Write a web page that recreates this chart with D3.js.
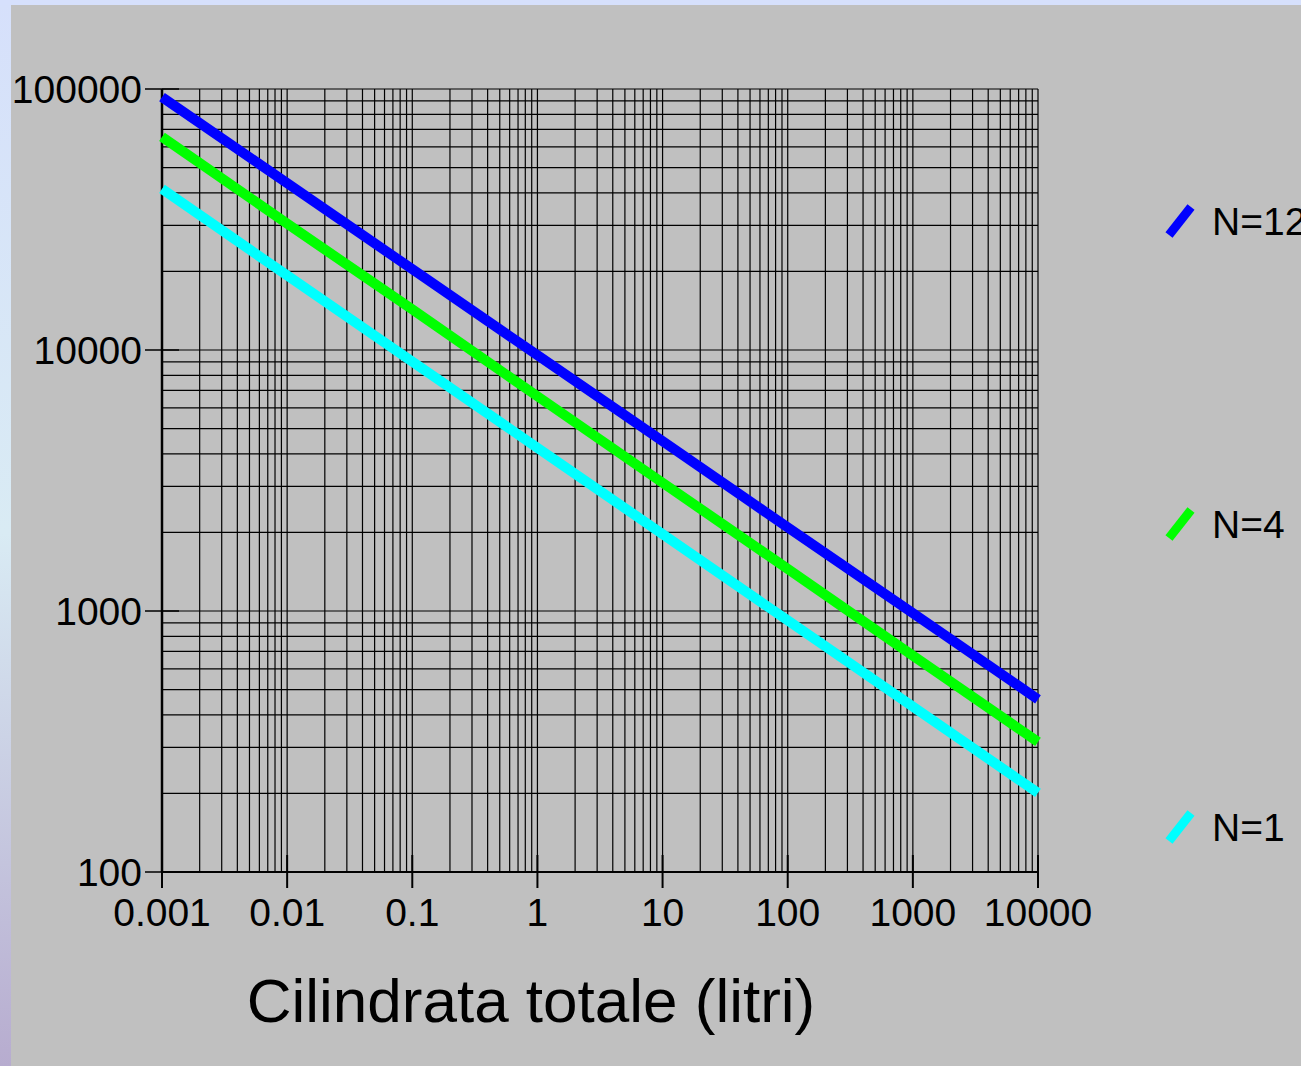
<!DOCTYPE html>
<html>
<head>
<meta charset="utf-8">
<script src="https://cdn.jsdelivr.net/npm/d3@7"></script>
<style>
  html, body { margin: 0; padding: 0; overflow: hidden; }
  svg { display: block; }
</style>
</head>
<body>
<svg id="chart" width="1301" height="1066"></svg>
<script>
// ---- data ----
const xDecades = [0.001, 0.01, 0.1, 1, 10, 100, 1000, 10000];
const xTickLabels = ["0.001", "0.01", "0.1", "1", "10", "100", "1000", "10000"];
const yDecades = [100, 1000, 10000, 100000];
const yTickLabels = ["100", "1000", "10000", "100000"];
const seriesNames = ["N=12", "N=4", "N=1"];
const valuesN12 = [93100, 43600, 20400, 9550, 4480, 2090, 982, 459];
const valuesN4  = [65500, 30500, 14300, 6650, 3100, 1450, 675, 315];
const valuesN1  = [41400, 19300, 9030, 4220, 1970, 920, 430, 201];
const seriesColors = ["#0000ff", "#00ff00", "#00ffff"];
const xTitle = "Cilindrata totale (litri)";

const series = [
  { name: seriesNames[0], values: valuesN12, color: seriesColors[0] },
  { name: seriesNames[1], values: valuesN4,  color: seriesColors[1] },
  { name: seriesNames[2], values: valuesN1,  color: seriesColors[2] }
];

(function () {
const svg = d3.select("#chart");
const W = 1301, H = 1066;

// background
const defs = svg.append("defs");
const grad = defs.append("linearGradient").attr("id", "edge").attr("x1", 0).attr("y1", 0).attr("x2", 0).attr("y2", 1);
grad.append("stop").attr("offset", "0%").attr("stop-color", "#d6e0fb");
grad.append("stop").attr("offset", "50%").attr("stop-color", "#d9ebf4");
grad.append("stop").attr("offset", "100%").attr("stop-color", "#b7accf");
svg.append("rect").attr("width", W).attr("height", H).attr("fill", "url(#edge)");
svg.append("rect").attr("x", 0).attr("y", 0).attr("width", W).attr("height", 5).attr("fill", "#d6e0fc");
svg.append("rect").attr("x", 11).attr("y", 5).attr("width", W - 11).attr("height", H - 5).attr("fill", "#c0c0c0");

// scales
const pLeft = 162, pRight = 1038, pTop = 89, pBottom = 872;
const x = d3.scaleLog().domain([0.001, 10000]).range([pLeft, pRight]);
const y = d3.scaleLog().domain([100, 100000]).range([pBottom, pTop]);

const g = svg.append("g");

// grid lines: 1..9 per decade
const xGrid = [];
xDecades.slice(0, -1).forEach(d => { for (let k = 1; k <= 9; k++) xGrid.push(d * k); });
xGrid.push(10000);
const yGrid = [];
yDecades.slice(0, -1).forEach(d => { for (let k = 1; k <= 9; k++) yGrid.push(d * k); });
yGrid.push(100000);

g.selectAll(".vg").data(xGrid).join("line")
  .attr("x1", d => x(d)).attr("x2", d => x(d))
  .attr("y1", pTop).attr("y2", pBottom)
  .attr("stroke", "#000").attr("stroke-width", 1.2);
g.selectAll(".hg").data(yGrid).join("line")
  .attr("y1", d => y(d)).attr("y2", d => y(d))
  .attr("x1", pLeft).attr("x2", pRight)
  .attr("stroke", "#000").attr("stroke-width", 1.2);

// frame
g.append("line").attr("x1", pLeft).attr("x2", pLeft).attr("y1", pTop).attr("y2", pBottom).attr("stroke", "#000").attr("stroke-width", 2.5);
g.append("line").attr("x1", pLeft).attr("x2", pRight).attr("y1", pBottom).attr("y2", pBottom).attr("stroke", "#000").attr("stroke-width", 2);

// major ticks
g.selectAll(".xt").data(xDecades).join("line")
  .attr("x1", d => x(d)).attr("x2", d => x(d))
  .attr("y1", pBottom - 17).attr("y2", pBottom + 16)
  .attr("stroke", "#000").attr("stroke-width", 2);
g.selectAll(".yt").data(yDecades).join("line")
  .attr("y1", d => y(d)).attr("y2", d => y(d))
  .attr("x1", pLeft - 17).attr("x2", pLeft + 17)
  .attr("stroke", "#000").attr("stroke-width", 1.5);

// tick labels
const font = "'Liberation Sans', Arial, sans-serif";
g.selectAll(".xl").data(xDecades).join("text")
  .attr("x", d => x(d)).attr("y", 926)
  .attr("text-anchor", "middle")
  .attr("font-family", font).attr("font-size", 39).attr("fill", "#000")
  .text((d, i) => xTickLabels[i]);
g.selectAll(".yl").data(yDecades).join("text")
  .attr("x", 142).attr("y", d => y(d) + 14)
  .attr("text-anchor", "end")
  .attr("font-family", font).attr("font-size", 39).attr("fill", "#000")
  .text((d, i) => yTickLabels[i]);

// axis title
svg.append("text").attr("x", 531).attr("y", 1022).attr("text-anchor", "middle")
  .attr("font-family", font).attr("font-size", 62).attr("fill", "#000")
  .text(xTitle);

// series lines
const line = d3.line().x((d, i) => x(xDecades[i])).y(d => y(d));
svg.append("g").selectAll("path").data(series).join("path")
  .attr("d", s => line(s.values))
  .attr("fill", "none")
  .attr("stroke", s => s.color)
  .attr("stroke-width", 10)
  .attr("stroke-linecap", "butt");

// legend
const legendY = [221, 524, 827];
const lg = svg.append("g").selectAll("g").data(series).join("g")
  .attr("transform", (s, i) => `translate(0,${legendY[i]})`);
lg.append("line")
  .attr("x1", 1169).attr("y1", 14).attr("x2", 1191).attr("y2", -14)
  .attr("stroke", s => s.color).attr("stroke-width", 9);
lg.append("text")
  .attr("x", 1212).attr("y", 14)
  .attr("font-family", font).attr("font-size", 39).attr("fill", "#000")
  .text(s => s.name);
})();
</script>
</body>
</html>
